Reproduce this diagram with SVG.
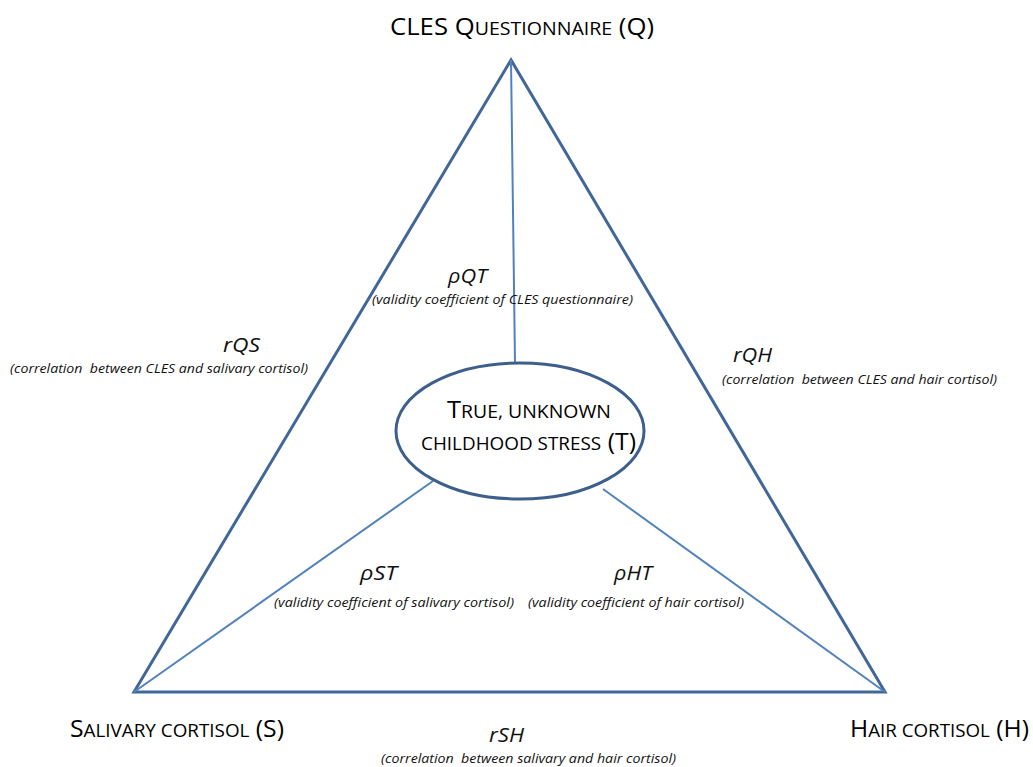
<svg xmlns="http://www.w3.org/2000/svg" width="1033" height="767" viewBox="0 0 1033 767">
  <style>
    .edge-outer { fill: none; stroke: #41679a; stroke-width: 3; stroke-linejoin: miter; }
    .edge-inner { fill: none; stroke: #5282be; stroke-width: 2; }
    .ellipse { fill: #ffffff; stroke: #3d5f8c; stroke-width: 3; }
    .title { font-family: "Open Sans", "Liberation Sans", sans-serif; font-size: 23px; fill: #000000; }
    .sc { font-size: 17.5px; }
    .sym { font-family: "Open Sans", "Liberation Sans", sans-serif; font-style: italic; font-size: 20px; fill: #111111; }
    .note { font-family: "Open Sans", "Liberation Sans", sans-serif; font-style: italic; font-size: 12.5px; fill: #111111; white-space: pre; }
  </style>
  <rect width="1033" height="767" fill="#ffffff"/>

  <g id="connectors">
    <polygon class="edge-outer" points="511,60 134,692 885,692"/>
    <line class="edge-inner" x1="511" y1="60" x2="515" y2="363"/>
    <line class="edge-inner" x1="134" y1="692" x2="433" y2="481"/>
    <line class="edge-inner" x1="885" y1="692" x2="603" y2="489"/>
  </g>

  <g id="node-Q">
    <text class="title" x="390" y="35" textLength="264" lengthAdjust="spacingAndGlyphs">CLES Q<tspan class="sc">UESTIONNAIRE</tspan> (Q)</text>
  </g>

  <g id="node-T">
    <ellipse class="ellipse" cx="520" cy="431" rx="124" ry="68"/>
    <text class="title" x="447" y="418" textLength="164" lengthAdjust="spacingAndGlyphs">T<tspan class="sc">RUE, UNKNOWN</tspan></text>
    <text class="title" x="421" y="450" textLength="215" lengthAdjust="spacingAndGlyphs"><tspan class="sc">CHILDHOOD STRESS</tspan> (T)</text>
  </g>

  <g id="node-S">
    <text class="title" x="70" y="737" textLength="214" lengthAdjust="spacingAndGlyphs">S<tspan class="sc">ALIVARY CORTISOL</tspan> (S)</text>
  </g>

  <g id="node-H">
    <text class="title" x="850" y="737" textLength="179" lengthAdjust="spacingAndGlyphs">H<tspan class="sc">AIR CORTISOL</tspan> (H)</text>
  </g>

  <g id="labels">
    <text class="sym" x="223" y="352" textLength="37" lengthAdjust="spacingAndGlyphs">rQS</text>
    <text class="note" x="10" y="373" textLength="298" lengthAdjust="spacingAndGlyphs">(correlation  between CLES and salivary cortisol)</text>

    <text class="sym" x="448" y="283" textLength="39" lengthAdjust="spacingAndGlyphs">ρQT</text>
    <text class="note" x="372" y="304" textLength="261" lengthAdjust="spacingAndGlyphs">(validity coefficient of CLES questionnaire)</text>

    <text class="sym" x="733" y="362" textLength="39" lengthAdjust="spacingAndGlyphs">rQH</text>
    <text class="note" x="722" y="384" textLength="275" lengthAdjust="spacingAndGlyphs">(correlation  between CLES and hair cortisol)</text>

    <text class="sym" x="360" y="580" textLength="37" lengthAdjust="spacingAndGlyphs">ρST</text>
    <text class="note" x="274" y="607" textLength="240" lengthAdjust="spacingAndGlyphs">(validity coefficient of salivary cortisol)</text>

    <text class="sym" x="614" y="580" textLength="38" lengthAdjust="spacingAndGlyphs">ρHT</text>
    <text class="note" x="528" y="607" textLength="216" lengthAdjust="spacingAndGlyphs">(validity coefficient of hair cortisol)</text>

    <text class="sym" x="489" y="742" textLength="35" lengthAdjust="spacingAndGlyphs">rSH</text>
    <text class="note" x="381" y="763" textLength="295" lengthAdjust="spacingAndGlyphs">(correlation  between salivary and hair cortisol)</text>
  </g>
</svg>
